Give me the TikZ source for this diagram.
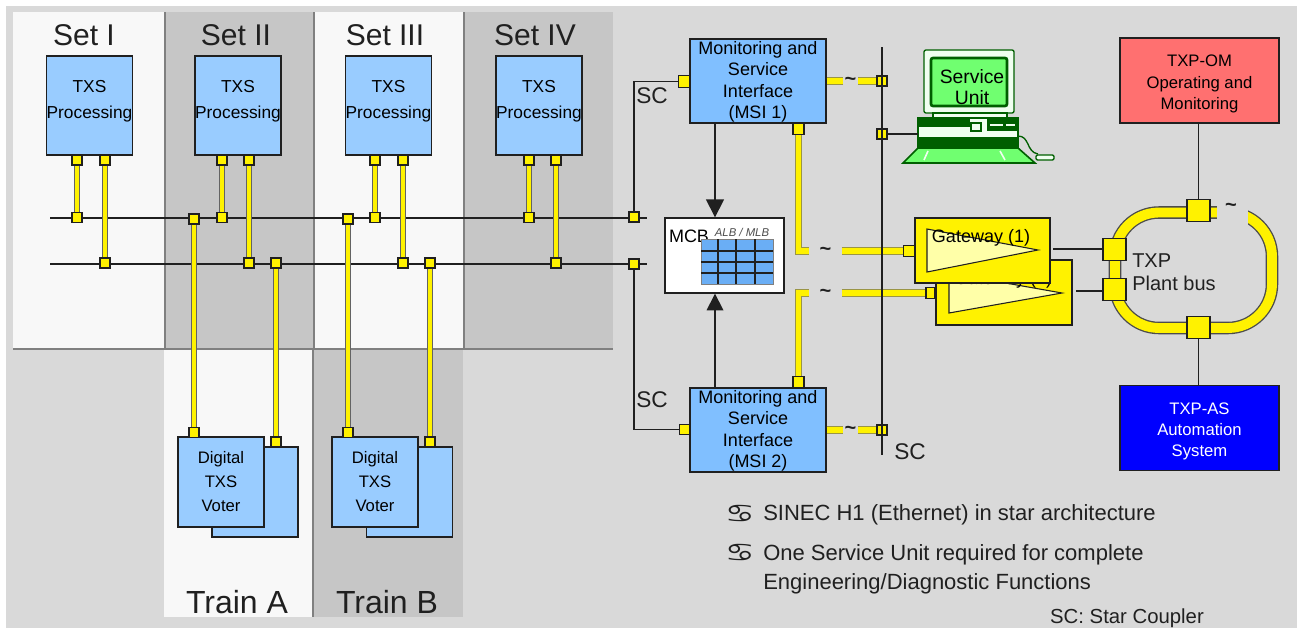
\documentclass[tikz,border=0pt]{standalone}
\usepackage{fontspec}
\setmainfont{Liberation Sans}
\newfontfamily\zodiacfont{DejaVu Sans}
\usetikzlibrary{arrows.meta,calc,positioning}
\definecolor{PageGray}{HTML}{D9D9D9}
\definecolor{PanelLight}{HTML}{F8F8F8}
\definecolor{PanelDark}{HTML}{C6C6C6}
\definecolor{PanelRule}{HTML}{808080}
\definecolor{TxsBlue}{HTML}{99CCFF}
\definecolor{MsiBlue}{HTML}{80BFFF}
\definecolor{GridBlue}{HTML}{6AAEF5}
\definecolor{PaleYellow}{HTML}{FFFFA8}
\definecolor{OmRed}{HTML}{FF7070}
\definecolor{AsBlue}{HTML}{0000FF}
\definecolor{UnitGreen}{HTML}{70FF70}
\definecolor{UnitPale}{HTML}{F0FFF0}
\definecolor{UnitDark}{HTML}{005F00}
\definecolor{LineDark}{HTML}{202020}

\begin{document}
\begin{tikzpicture}[
  x=0.75pt,y=-0.75pt,
  box/.style={draw=LineDark,line width=1pt,inner sep=0pt,align=center},
  txsbox/.style={box,fill=TxsBlue,minimum width=64.5pt,minimum height=74.25pt},
  voter/.style={box,fill=TxsBlue,minimum width=64.5pt,minimum height=67.5pt,
    font=\fontsize{12.5}{18}\selectfont},
  msi/.style={box,fill=MsiBlue,minimum width=102pt,minimum height=63pt},
  msitext/.style={align=center,inner sep=0pt,font=\fontsize{13.5}{16}\selectfont},
  plantbox/.style={box,minimum width=119.25pt,minimum height=63.75pt,
    font=\fontsize{12.5}{15.9}\selectfont},
  gateway/.style={box,fill=yellow,minimum width=102pt,minimum height=48.75pt},
  wedge/.style={draw=LineDark,line width=0.8pt,fill=PaleYellow},
  pad/.style={draw=LineDark,line width=0.8pt,fill=yellow,inner sep=0pt,minimum size=7.5pt},
  widepad/.style={pad,minimum width=8.25pt,minimum height=8.5pt},
  bigpad/.style={pad,minimum width=17.25pt,minimum height=16pt},
  cable/.style={draw=LineDark!70,line width=0.5pt,double=yellow,double distance=3.4pt},
  maincable/.style={draw=black!45!yellow,line width=0.6pt,double=yellow,double distance=4.2pt},
  wire/.style={draw=LineDark,line width=1pt},
  heading/.style={font=\fontsize{22.5}{26}\selectfont,text=LineDark},
  sclabel/.style={font=\fontsize{17}{20}\selectfont,text=LineDark},
  cut/.style={font=\fontsize{15}{15}\selectfont\bfseries,inner sep=0pt,text=LineDark},
  notetext/.style={anchor=west,inner sep=0pt,font=\fontsize{16.5}{21.75}\selectfont,
    text=LineDark,align=left},
  bullet/.style={font=\zodiacfont\fontsize{19}{20}\selectfont,inner sep=0pt,text=LineDark}
]
  \useasboundingbox (0,0) rectangle (1303,628);
  \fill[white] (0,0) rectangle (1303,628);
  \fill[PageGray] (6,6) rectangle (1297,628);

  % Redundancy sets and voter trains behind everything else.
  \foreach \xa/\xb/\shade in {13/165/PanelLight,165/314/PanelDark,314/464/PanelLight,464/613/PanelDark}
    \fill[\shade] (\xa,12) rectangle (\xb,349);
  \fill[PanelLight] (164,349) rectangle (313,617);
  \fill[PanelDark] (313,349) rectangle (463,617);
  \foreach \xa in {165,314,464}
    \draw[PanelRule,line width=1pt] (\xa,12) -- (\xa,349);
  \draw[PanelRule,line width=1pt] (313,349) -- (313,617);
  \draw[PanelRule,line width=1pt] (13,349) -- (613,349);

  \node[heading] (setI) at (84,35) {Set I};
  \node[heading] (setII) at (236,35) {Set II};
  \node[heading] (setIII) at (385,35) {Set III};
  \node[heading] (setIV) at (535,35) {Set IV};
  \node[heading,font=\fontsize{24}{26}\selectfont] (trainA) at (237,602) {Train A};
  \node[heading,font=\fontsize{24}{26}\selectfont] (trainB) at (387,602) {Train B};

  % The two horizontal buses.
  \coordinate (busAw) at (50,218);
  \coordinate (busAe) at (647,218);
  \coordinate (busBw) at (50,264);
  \coordinate (busBe) at (647,264);
  \draw[wire] (busAw) -- (busAe);
  \draw[wire] (busBw) -- (busBe);

  % Processing cabinets and their two bus connections.
  \foreach \name/\xc/\xa/\xb in {One/89.5/77/105,Two/238/222/249,Three/388.5/375/403,Four/539/529/556} {
    \node[txsbox] (txs\name) at (\xc,105.5) {};
    \node[font=\fontsize{13}{19.5}\selectfont,align=center,inner sep=0pt] (txs\name text) at (\xc,101) {TXS\\Processing};
    \node[pad] (stubA\name) at (\xa,160) {};
    \node[pad] (stubB\name) at (\xb,160) {};
    \node[pad] (tapA\name) at (\xa,217.5) {};
    \node[pad] (tapB\name) at (\xb,263) {};
    \draw[cable] (stubA\name) -- (tapA\name);
    \draw[cable] (stubB\name) -- (tapB\name);
  }

  % Voters; the rear unit of each train is drawn first.
  \node[voter] (voterArear) at (255,492) {};
  \node[voter] (voterA) at (221,482) {Digital\\TXS\\Voter};
  \node[voter] (voterBrear) at (409.5,492) {};
  \node[voter] (voterB) at (375,482) {Digital\\TXS\\Voter};
  \node[pad] (padAfront) at (194,432.5) {};
  \node[pad] (padArear) at (276,442) {};
  \node[pad] (padBfront) at (348,432.5) {};
  \node[pad] (padBrear) at (430,442) {};
  \node[pad] (tapAfront) at (194,219) {};
  \node[pad] (tapArear) at (276,263) {};
  \node[pad] (tapBfront) at (348,219) {};
  \node[pad] (tapBrear) at (430,263) {};
  \draw[cable] (tapAfront) -- (padAfront);
  \draw[cable] (tapArear) -- (padArear);
  \draw[cable] (tapBfront) -- (padBfront);
  \draw[cable] (tapBrear) -- (padBrear);

  % Monitoring and service interfaces with the star coupler.
  \node[msi] (msiOne) at (758,81) {};
  \node[msitext] (msiOnetext) at (758,82) {Monitoring and\\Service\\Interface\\(MSI 1)};
  \node[msi] (msiTwo) at (758,430) {};
  \node[msitext] (msiTwotext) at (758,431) {Monitoring and\\Service\\Interface\\(MSI 2)};
  \coordinate (couplerTop) at (882,47);
  \coordinate (couplerEnd) at (882,455);
  \draw[wire] (couplerTop) -- (couplerEnd);

  \node[pad] (busApad) at (634,217) {};
  \node[pad] (busBpad) at (634,264) {};
  \node[widepad] (msiOneL) at (684,81.5) {};
  \node[pad] (msiTwoL) at (684.5,429.5) {};
  \draw[wire] (busApad) |- (msiOneL);
  \draw[wire] (busBpad) |- (msiTwoL);
  \node[sclabel] (scOne) at (652,96) {SC};
  \node[sclabel] (scTwo) at (652,400) {SC};
  \node[sclabel] (scThree) at (910,452) {SC};

  \node[pad] (couplerA) at (882,81) {};
  \node[pad] (couplerB) at (882,134) {};
  \node[pad] (couplerC) at (882,430) {};
  \node[cut,minimum width=11.25pt,minimum height=10pt] (cutOne) at (850.5,81) {\textasciitilde};
  \node[cut,minimum width=11.25pt,minimum height=10pt] (cutTwo) at (850.5,430) {\textasciitilde};
  \draw[maincable] (msiOne.east |- cutOne) -- (cutOne);
  \draw[maincable] (cutOne) -- (couplerA);
  \draw[maincable] (msiTwo.east |- cutTwo) -- (cutTwo);
  \draw[maincable] (cutTwo) -- (couplerC);

  % Control board and its two feeds.
  \node[box,fill=white,minimum width=89.25pt,minimum height=56.25pt] (mcb) at (724.5,255.5) {};
  \node[font=\fontsize{13.5}{15}\selectfont,inner sep=0pt] (mcbtext) at (689,236) {MCB};
  \node[font=\fontsize{8.5}{9}\selectfont\itshape,inner sep=0pt,text=black!70] (mcbsub) at (742,232) {ALB / MLB};
  \fill[GridBlue,draw=PanelRule] (701,239) rectangle (773,284);
  \foreach \x in {718,736,755}
    \draw[LineDark,line width=0.9pt] (\x,239) -- (\x,284);
  \foreach \y in {251,262,273}
    \draw[LineDark,line width=0.9pt] (701,\y) -- (773,\y);
  \coordinate (feedOne) at (715,123);
  \coordinate (feedTwo) at (715,388);
  \draw[wire,-{Triangle[length=13.5pt,width=13.5pt]}] (feedOne) -- (mcb.north -| feedOne);
  \draw[wire,-{Triangle[length=12.5pt,width=12.5pt]}] (feedTwo) -- (mcb.south -| feedTwo);

  % Gateways; the first one overlaps the second.
  \node[gateway] (gatewayTwo) at (1004,292.5) {};
  \draw[wedge] (949,273) -- (1062,293) -- (949,313) -- cycle;
  \node[font=\fontsize{13.5}{15}\selectfont,inner sep=0pt] (gatewayTwotext) at (1003,280) {Gateway (2)};
  \node[gateway,minimum width=101.25pt] (gatewayOne) at (982.5,250.5) {};
  \draw[wedge] (927,229) -- (1038,250) -- (927,272) -- cycle;
  \node[font=\fontsize{13.5}{15}\selectfont,inner sep=0pt] (gatewayOnetext) at (981,238) {Gateway (1)};
  \node[widepad] (gatewayOneL) at (909,251) {};
  \node[widepad,minimum width=6.75pt] (gatewayTwoL) at (930.5,293) {};
  \node[widepad] (msiOneB) at (798.5,129) {};
  \node[widepad] (msiTwoT) at (798.5,382) {};
  \node[cut,minimum width=24pt,minimum height=10pt] (cutThree) at (825.5,251) {\textasciitilde};
  \node[cut,minimum width=24pt,minimum height=10pt] (cutFour) at (825.5,293) {\textasciitilde};
  \draw[maincable] (msiOneB) |- (cutThree);
  \draw[maincable] (cutThree) -- (gatewayOneL);
  \draw[maincable] (msiTwoT) |- (cutFour);
  \draw[maincable] (cutFour) -- (gatewayTwoL);
  \draw[wire] (couplerTop) -- (couplerEnd);

  % Plant bus ring with the gap at the top.
  \draw[LineDark!80,line width=9.4pt,rounded corners=33pt] (1115,212.5) rectangle (1272,328);
  \draw[yellow,line width=7.4pt,rounded corners=33pt] (1115,212.5) rectangle (1272,328);
  \fill[PageGray] (1217,198) rectangle (1248,227);
  \node[cut] (cutRing) at (1231,207) {\textasciitilde};

  \node[plantbox,fill=OmRed] (om) at (1199.5,80.5) {\rule{0pt}{14pt}TXP-OM\\Operating and\\Monitoring};
  \node[plantbox,fill=AsBlue,text=white] (as) at (1199.5,428) {\rule{0pt}{14pt}TXP-AS\\Automation\\System};
  \node[bigpad] (ringTop) at (1198.5,210.5) {};
  \node[bigpad] (ringBottom) at (1198.5,327.5) {};
  \node[bigpad] (ringUpper) at (1114.5,249.5) {};
  \node[bigpad] (ringLower) at (1114.5,289.5) {};
  \draw[wire] (om.south -| ringTop) -- (ringTop);
  \draw[wire] (ringBottom) -- (as.north -| ringBottom);
  \coordinate (gatewayOneR) at (1053,249);
  \coordinate (gatewayTwoR) at (1076,291);
  \draw[wire] (gatewayOneR) -- (gatewayOneR -| ringUpper.west);
  \draw[wire] (gatewayTwoR) -- (gatewayTwoR -| ringLower.west);
  \node[font=\fontsize{15}{17.25}\selectfont,anchor=west,align=left,inner sep=0pt,text=LineDark] (ringtext) at (1132,272.5) {TXP\\Plant bus};

  % Service unit: screen, base, keyboard and mouse.
  \draw[UnitDark,line width=1pt,fill=UnitPale,rounded corners=1.5pt] (924,50) rectangle (1014,113);
  \draw[UnitDark,line width=2pt,fill=UnitGreen,rounded corners=1.5pt] (931,58) rectangle (1007,106);
  \draw[UnitDark,line width=1pt,fill=UnitPale] (933,113) rectangle (1007,118);
  \draw[UnitDark,line width=1pt,fill=UnitPale] (918,118) rectangle (1018,148);
  \fill[UnitDark] (918,118) rectangle (970,127);
  \fill[UnitDark] (918,137) rectangle (1018,148);
  \fill[UnitDark] (987,119) rectangle (1018,131);
  \draw[UnitPale,line width=1.2pt] (990,125) -- (1003,125);
  \draw[UnitPale,line width=1.2pt] (1006,125) -- (1015,125);
  \draw[UnitDark,line width=1pt,fill=UnitPale] (971,123) rectangle (981,131);
  \draw[UnitDark,line width=1.2pt,fill=UnitGreen] (918,148) -- (1018,148) -- (1035,163) -- (903,163) -- cycle;
  \draw[UnitPale,line width=1.2pt] (928,151) -- (924,160);
  \draw[UnitPale,line width=1.2pt] (1000,151) -- (1005,160);
  \draw[UnitDark,line width=1pt] (1018,136) .. controls (1030,136) and (1026,152) .. (1038,154);
  \draw[UnitDark,line width=1pt,fill=UnitPale,rounded corners=1pt] (1036,155) rectangle (1054,160);
  \node[font=\fontsize{14.5}{15.75}\selectfont,align=center,inner sep=0pt,text=black] (unittext) at (972,87) {Service\\Unit};
  \draw[wire] (couplerB) -- (918,134);

  % Notes under the diagram.
  \node[bullet] (noteA) at (740,514) {\scalebox{1.3}[1]{♋}};
  \node[bullet] (noteB) at (740,553) {\scalebox{1.3}[1]{♋}};
  \node[notetext] (noteAtext) at (763,515) {SINEC H1 (Ethernet) in star architecture};
  \node[notetext] (noteBtext) at (763,569) {One Service Unit required for complete\\Engineering/Diagnostic Functions};
  \node[font=\fontsize{15.25}{17}\selectfont,inner sep=0pt,text=LineDark] (sckey) at (1127,618) {SC: Star Coupler};
\end{tikzpicture}
\end{document}
